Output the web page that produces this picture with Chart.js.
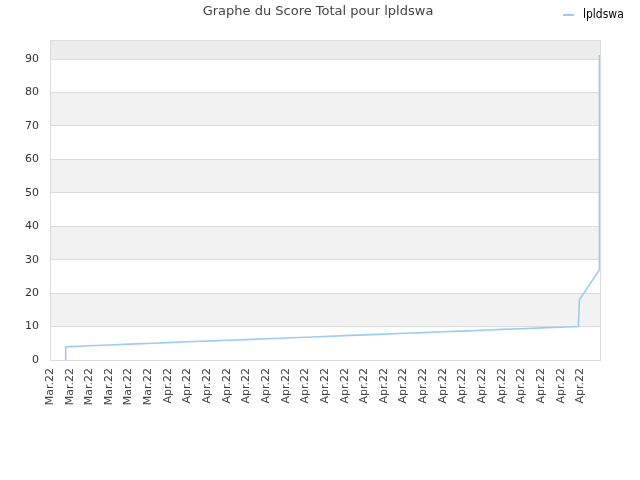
<!DOCTYPE html>
<html>
<head>
<meta charset="utf-8">
<script src="https://cdn.jsdelivr.net/npm/chart.js@4"></script>
<style>
  html, body { margin: 0; padding: 0; background: #fff; }
  #wrap { width: 640px; height: 480px; }
</style>
</head>
<body>
<div id="wrap"><canvas id="score-chart" width="640" height="480"></canvas></div>
<script>
// Tick labels on the x axis (one per position)
const tickLabels = [
  'Mar.22', 'Mar.22', 'Mar.22', 'Mar.22', 'Mar.22', 'Mar.22',
  'Apr.22', 'Apr.22', 'Apr.22', 'Apr.22', 'Apr.22', 'Apr.22', 'Apr.22',
  'Apr.22', 'Apr.22', 'Apr.22', 'Apr.22', 'Apr.22', 'Apr.22', 'Apr.22',
  'Apr.22', 'Apr.22', 'Apr.22', 'Apr.22', 'Apr.22', 'Apr.22', 'Apr.22', 'Apr.22'
];

// Score series: position along the axis and total score
const positions = [0.8, 0.8, 1, 2, 3, 4, 5, 6, 7, 8, 9, 10, 11, 12, 13, 14, 15, 16, 17,
  18, 19, 20, 21, 22, 23, 24, 25, 26, 26.9, 26.95, 27.97, 27.97];
const scores = [0, 3.9, 4.0, 4.25, 4.5, 4.75, 4.95, 5.2, 5.45, 5.65, 5.9, 6.1, 6.35, 6.6,
  6.8, 7.05, 7.3, 7.5, 7.75, 8.0, 8.2, 8.45, 8.65, 8.9, 9.15, 9.35, 9.6, 9.8, 10.0, 18.0, 26.9, 91.2];

const yTicks = [0, 10, 20, 30, 40, 50, 60, 70, 80, 90];
const yMax = 95.7;

const seriesName = 'lpldswa';
const chartTitle = 'Graphe du Score Total pour lpldswa';

// Bands, frame, title and legend
const decorPlugin = {
  id: 'decor',
  beforeDraw: function(chart) {
    const ctx = chart.ctx;
    const area = chart.chartArea;
    const y = chart.scales.y;
    ctx.save();
    for (let i = 0; i < yTicks.length; i++) {
      const lo = yTicks[i];
      const hi = i + 1 < yTicks.length ? yTicks[i + 1] : yMax;
      let color = null;
      if (i === yTicks.length - 1) color = '#ececec';
      else if (i % 2 === 1) color = '#f2f2f2';
      if (color) {
        ctx.fillStyle = color;
        const top = y.getPixelForValue(hi);
        const bot = y.getPixelForValue(lo);
        ctx.fillRect(area.left, top, area.right - area.left, bot - top);
      }
    }
    ctx.restore();
  },
  afterDraw: function(chart) {
    const ctx = chart.ctx;
    const area = chart.chartArea;
    ctx.save();
    ctx.strokeStyle = '#dcdcdc';
    ctx.lineWidth = 1;
    ctx.strokeRect(area.left + 0.5, area.top + 0.5, area.right - area.left, area.bottom - area.top);

    ctx.fillStyle = '#444';
    ctx.font = '13px "DejaVu Sans"';
    ctx.textAlign = 'center';
    ctx.textBaseline = 'middle';
    ctx.fillText(chartTitle, 318, 12);

    ctx.strokeStyle = '#9ecbf5';
    ctx.lineWidth = 2;
    ctx.beginPath();
    ctx.moveTo(563, 15);
    ctx.lineTo(574, 15);
    ctx.stroke();
    ctx.fillStyle = '#000';
    ctx.font = '12px "DejaVu Sans Condensed"';
    ctx.textAlign = 'left';
    ctx.fillText(seriesName, 583, 15);
    ctx.restore();
  }
};

const points = positions.map(function(p, i) { return { x: p, y: scores[i] }; });

new Chart(document.getElementById('score-chart'), {
  type: 'line',
  data: {
    datasets: [{
      label: seriesName,
      data: points,
      borderColor: '#9ecbf5',
      borderWidth: 1.6,
      pointRadius: 0,
      fill: false,
      tension: 0
    }]
  },
  options: {
    responsive: false,
    animation: false,
    layout: { padding: { top: 40, right: 40, left: 0, bottom: 0 } },
    plugins: {
      legend: { display: false },
      title: { display: false },
      tooltip: { enabled: false }
    },
    scales: {
      x: {
        type: 'linear',
        min: 0,
        max: 28,
        grid: { display: false, drawTicks: false },
        border: { display: false },
        afterFit: function(scale) { scale.height = 120; },
        ticks: {
          stepSize: 1,
          autoSkip: false,
          minRotation: 90,
          maxRotation: 90,
          padding: 8,
          color: '#444',
          font: { family: 'DejaVu Sans', size: 11 },
          callback: function(value) {
            return tickLabels[value] !== undefined ? tickLabels[value] : '';
          }
        }
      },
      y: {
        min: 0,
        max: yMax,
        afterFit: function(scale) { scale.width = 50; },
        afterBuildTicks: function(scale) {
          scale.ticks = yTicks.map(function(v) { return { value: v }; });
        },
        grid: { color: '#dcdcdc', drawTicks: false },
        border: { display: false },
        ticks: {
          padding: 11,
          color: '#333',
          font: { family: 'DejaVu Sans', size: 11 }
        }
      }
    }
  },
  plugins: [decorPlugin]
});
</script>
</body>
</html>
